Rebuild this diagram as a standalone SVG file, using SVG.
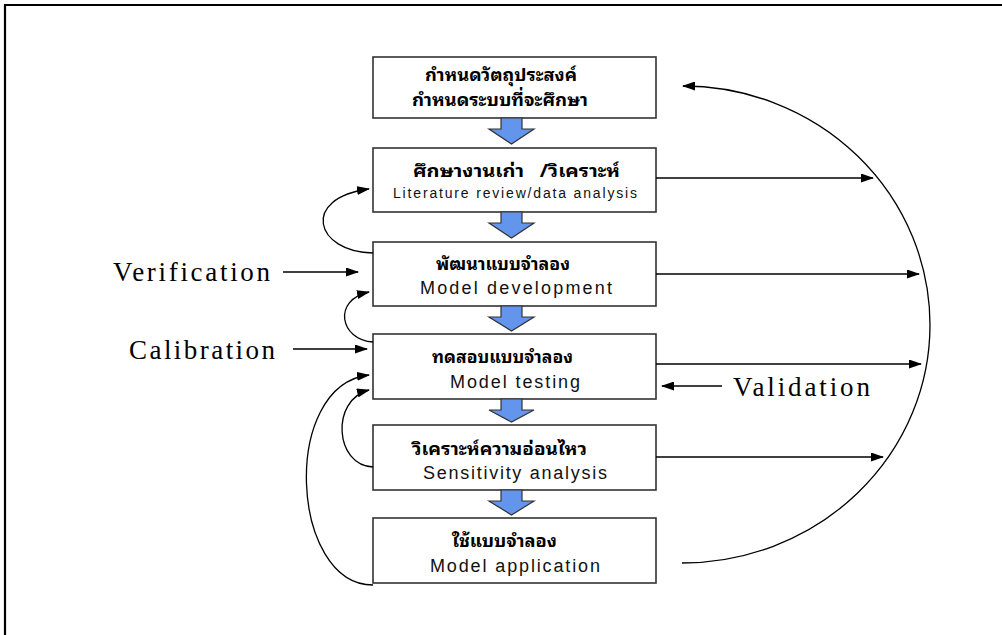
<svg xmlns="http://www.w3.org/2000/svg" width="1002" height="635" viewBox="0 0 1002 635">
<style>
.box{fill:#fff;stroke:#333;stroke-width:1.6}
.th{font-family:"Noto Sans Thai Looped","Noto Serif Thai","Noto Sans Thai","Loma","Garuda","Tahoma","DejaVu Sans",sans-serif;font-weight:bold;font-size:17px;fill:#000}
.en{font-family:"Liberation Sans",Arial,sans-serif;fill:#111}
.lbl{font-family:"Liberation Serif","Times New Roman",serif;font-size:27px;fill:#000}
.con{fill:none;stroke:#000;stroke-width:1.3}
.blue{fill:#6495ED;stroke:#333;stroke-width:1.2}
</style>
<defs>
<marker id="ah" markerUnits="userSpaceOnUse" markerWidth="13" markerHeight="9" refX="12" refY="4.5" orient="auto">
<path d="M0,0 L13,4.5 L0,9 z" fill="#000"/>
</marker>
</defs>
<path d="M5,635 V5 H1002" fill="none" stroke="#000" stroke-width="2.2"/>

<g id="n1"><rect class="box" x="373" y="57" width="283" height="61"/>
<text class="th" x="425" y="81" textLength="152" lengthAdjust="spacingAndGlyphs">กำหนดวัตถุประสงค์</text>
<text class="th" x="412" y="106" textLength="176" lengthAdjust="spacingAndGlyphs">กำหนดระบบที่จะศึกษา</text></g>

<g id="n2"><rect class="box" x="373" y="148" width="283" height="64"/>
<text class="th" x="413" y="177" textLength="207" lengthAdjust="spacingAndGlyphs" xml:space="preserve">ศึกษางานเก่า   /วิเคราะห์</text>
<text class="en" x="393" y="198" font-size="14" textLength="244">Literature review/data analysis</text></g>

<g id="n3"><rect class="box" x="373" y="242" width="283" height="64"/>
<text class="th" x="436" y="270" textLength="134" lengthAdjust="spacingAndGlyphs">พัฒนาแบบจำลอง</text>
<text class="en" x="420" y="294" font-size="18" textLength="192">Model development</text></g>

<g id="n4"><rect class="box" x="373" y="334" width="283" height="65"/>
<text class="th" x="432" y="363" textLength="141" lengthAdjust="spacingAndGlyphs">ทดสอบแบบจำลอง</text>
<text class="en" x="450" y="388" font-size="18" textLength="130">Model testing</text></g>

<g id="n5"><rect class="box" x="373" y="425" width="283" height="65"/>
<text class="th" x="412" y="455" textLength="175" lengthAdjust="spacingAndGlyphs">วิเคราะห์ความอ่อนไหว</text>
<text class="en" x="423" y="479" font-size="18" textLength="184">Sensitivity analysis</text></g>

<g id="n6"><rect class="box" x="373" y="518" width="283" height="65"/>
<text class="th" x="452" y="547" textLength="105" lengthAdjust="spacingAndGlyphs">ใช้แบบจำลอง</text>
<text class="en" x="430" y="572" font-size="18" textLength="170">Model application</text></g>

<g id="labels">
<text class="lbl" x="113" y="281" textLength="157">Verification</text>
<text class="lbl" x="129" y="359" textLength="146">Calibration</text>
<text class="lbl" x="733" y="396" textLength="137">Validation</text>
</g>

<g id="flow">
<path class="blue" d="M501,118 H522 V129 H534 L511.5,144 L489,129 H501 Z"/>
<path class="blue" d="M501,212 H522 V223 H534 L511.5,238 L489,223 H501 Z"/>
<path class="blue" d="M501,306 H522 V317 H534 L511.5,331 L489,317 H501 Z"/>
<path class="blue" d="M501,399 H522 V410 H534 L511.5,422 L489,410 H501 Z"/>
<path class="blue" d="M501,490 H522 V501 H534 L511.5,515 L489,501 H501 Z"/>
</g>

<g id="connectors">
<path class="con" d="M373,253 C315,252 300,198 369,189" marker-end="url(#ah)"/>
<path class="con" d="M373,342 C340,340 332,300 369,292" marker-end="url(#ah)"/>
<path class="con" d="M373,467 C335,466 330,400 369,390" marker-end="url(#ah)"/>
<path class="con" d="M373,585 C290,585 280,385 369,375" marker-end="url(#ah)"/>
<path class="con" d="M283,272 H358" marker-end="url(#ah)"/>
<path class="con" d="M293,349 H367" marker-end="url(#ah)"/>
<path class="con" d="M656,178 H873" marker-end="url(#ah)"/>
<path class="con" d="M656,274 H919" marker-end="url(#ah)"/>
<path class="con" d="M656,364 H921" marker-end="url(#ah)"/>
<path class="con" d="M656,457 H883" marker-end="url(#ah)"/>
<path class="con" d="M722,386 H662" marker-end="url(#ah)"/>
<path class="con" d="M682,563 A248 238 0 0 0 930 325 A247 239 0 0 0 683 86" marker-end="url(#ah)"/>
</g>
</svg>
